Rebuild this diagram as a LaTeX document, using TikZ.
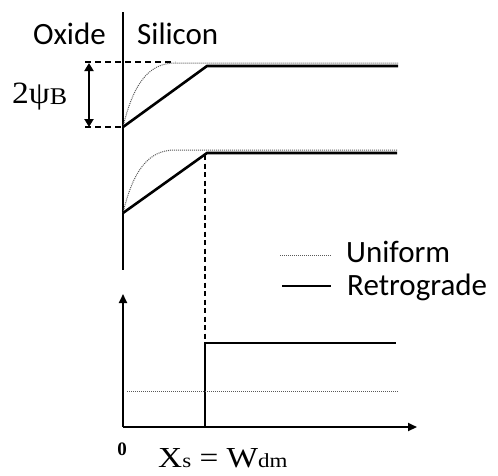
\documentclass[tikz,border=0pt]{standalone}
\usepackage{fontspec}
\setmainfont{Liberation Serif}
\newfontfamily\sansf{Carlito}
\usetikzlibrary{arrows.meta}
\tikzset{
  thickln/.style={line width=2.6pt, line cap=butt},
  unif/.style={line width=1pt, dash pattern=on 1pt off 1pt, black!65},
  guide/.style={line width=1.6pt, dash pattern=on 6pt off 4pt},
  axis/.style={line width=2pt, -{Triangle[length=9pt,width=8pt]}},
  lbl/.style={inner sep=0pt, anchor=base west, font=\sansf\fontsize{31}{31}\selectfont},
  ser/.style={inner sep=0pt, font=\fontsize{31}{31}\selectfont}
}
\begin{document}
\begin{tikzpicture}[x=1pt,y=-1pt]
\useasboundingbox (0,0) rectangle (498,475);
% vertical interface line
\coordinate (ifTop) at (123,12);
\coordinate (ifBot) at (123,270);
\draw[line width=1.5pt] (ifTop) -- (ifBot);
\node[lbl] (oxide) at (33,44) {Oxide};
\node[lbl] (silicon) at (137,44) {Silicon};
% top curve
\coordinate (a0) at (123,127);
\coordinate (a1) at (207,66);
\coordinate (a2) at (398,66);
\draw[guide] (85,62) -- (175,62);
\draw[guide] (85,127) -- (123,127);
\draw[unif] (a0) .. controls (133,85) and (148,63) .. (175,63) -- (398,63);
\draw[thickln] (a0) -- (a1) -- (a2);
% 2psiB arrow
\coordinate (pt) at (89,63);
\coordinate (pb) at (89,127);
\draw[line width=2pt, {Triangle[length=8pt,width=9pt]}-{Triangle[length=8pt,width=9pt]}] (pt) -- (pb);
\node[ser, anchor=base west] (psi) at (12,103) {\scalebox{1.08}[1]{2ψ\raisebox{-0.06em}{\fontsize{24}{24}\selectfont B}}};
% second curve
\coordinate (b0) at (123,213);
\coordinate (b1) at (207,153);
\coordinate (b2) at (397,153);
\draw[unif] (b0) .. controls (133,171) and (148,150) .. (175,150) -- (397,150);
\draw[thickln] (b0) -- (b1) -- (b2);
% dashed vertical
\coordinate (d1) at (205,155);
\coordinate (d2) at (205,343);
\draw[line width=2.6pt, dash pattern=on 5pt off 3.5pt] (d1) -- (d2);
% legend
\coordinate (u1) at (280,255);
\coordinate (u2) at (332,255);
\draw[unif] (u1) -- (u2);
\node[lbl] (uniform) at (346,262) {Uniform};
\coordinate (r1) at (282,286);
\coordinate (r2) at (331,286);
\draw[line width=2.5pt] (r1) -- (r2);
\node[lbl] (retro) at (347,295) {Retrograde};
% bottom axes
\coordinate (o) at (123,427);
\coordinate (yt) at (123,294);
\coordinate (xt) at (417,427);
\draw[axis] (o) -- (yt);
\draw[axis] (o) -- (xt);
\coordinate (s0) at (205,427);
\coordinate (s1) at (205,343);
\coordinate (s2) at (396,343);
\draw[line width=2.4pt] (s0) -- (s1) -- (s2);
\coordinate (h1) at (127,391);
\coordinate (h2) at (398,391);
\draw[unif] (h1) -- (h2);
\node[inner sep=0pt, anchor=base, font=\bfseries\fontsize{19}{19}\selectfont] (zero) at (122,455) {0};
\node[inner sep=0pt, anchor=base west, font=\fontsize{29}{29}\selectfont] (xs) at (158,467) {\scalebox{1.15}[1]{X{\fontsize{20}{20}\selectfont s} = W{\fontsize{20}{20}\selectfont dm}}};
\end{tikzpicture}
\end{document}
